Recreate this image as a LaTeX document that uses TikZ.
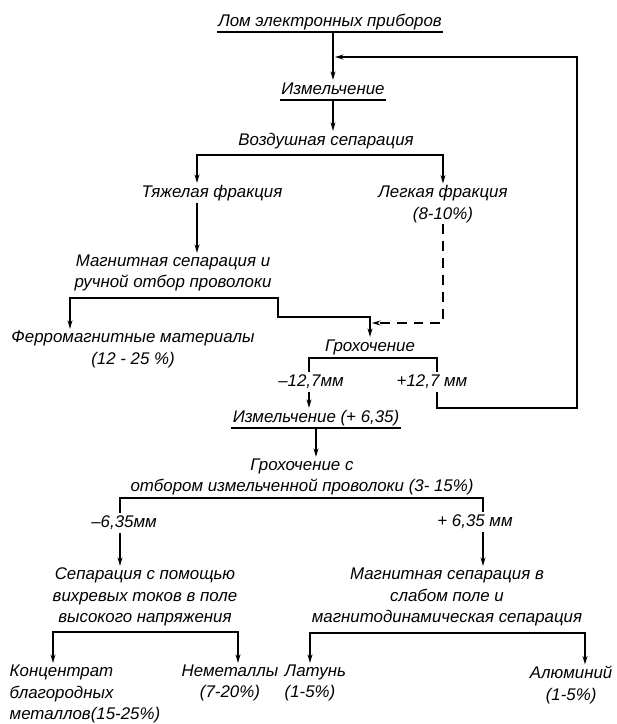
\documentclass[tikz,border=0pt]{standalone}
\usepackage{fontspec}
\setmainfont{Liberation Sans}
\usetikzlibrary{arrows.meta, calc}
\tikzset{
  flow/.style={line width=1.2pt, draw=black},
  arrow/.style={flow, -{Stealth[length=6pt,width=3.5pt]}},
  biarrow/.style={flow, {Stealth[length=6pt,width=3.5pt]}-{Stealth[length=6pt,width=3.5pt]}},
  dasharrow/.style={arrow, dash pattern=on 7pt off 5pt},
  txt/.style={font=\fontsize{12}{15.5}\selectfont\itshape,
    inner sep=1pt, text height=9pt, text depth=3pt},
  txtm/.style={font=\fontsize{12}{15.5}\selectfont\itshape,
    inner sep=1pt, align=center}
}

\begin{document}
\begin{tikzpicture}[x=0.025cm, y=-0.025cm]
\useasboundingbox (0,0) rectangle (617,724);

% Steps of the flow sheet
\node[txt] (lom) at (330,22) {Лом электронных приборов};
\node[txt] (izm1) at (333,90) {Измельчение};
\node[txt] (vozd) at (326,141) {Воздушная сепарация};
\node[txt] (tyazh) at (212,193) {Тяжелая фракция};
\node[txtm] (legk) at (443,204) {Легкая фракция\\(8-10\%)};
\node[txtm] (magn) at (173,273) {Магнитная сепарация и\\ручной отбор проволоки};
\node[txtm] (ferro) at (133,349) {Ферромагнитные материалы\\(12 - 25 \%)};
\node[txt] (groh) at (370,347) {Грохочение};
\node[txt] (m127) at (311,382) {–12,7мм};
\node[txt] (p127) at (432,382) {+12,7 мм};
\node[txt] (izm2) at (316,418) {Измельчение (+ 6,35)};
\node[txtm] (groh2) at (302,477) {Грохочение с\\отбором измельченной проволоки (3- 15\%)};
\node[txt] (m635) at (124,523) {–6,35мм};
\node[txt] (p635) at (475,522) {+ 6,35 мм};
\node[txtm] (sep) at (145,597) {Сепарация с помощью\\вихревых токов в поле\\высокого напряжения};
\node[txtm] (magn2) at (447,597) {Магнитная сепарация в\\слабом поле и\\магнитодинамическая сепарация};

% Products
\node[txtm, anchor=west, align=left] (konc) at (8,694) {Концентрат\\благородных\\металлов(15-25\%)};
\node[txtm] (nemet) at (230,683) {Неметаллы\\(7-20\%)};
\node[txtm, anchor=west, align=left] (latun) at (283,683) {Латунь\\(1-5\%)};
\node[txtm, anchor=east] (alum) at (614,685) {Алюминий\\(1-5\%)};

% Corners of the brackets
\coordinate (feed) at (335,57);
\coordinate (loop-t) at (577,57);
\coordinate (loop-b) at (577,408);
\coordinate (vozd-l) at (197,155);
\coordinate (vozd-r) at (443,155);
\coordinate (magn-l) at (70,298);
\coordinate (magn-r) at (278,298);
\coordinate (step) at (278,317);
\coordinate (merge) at (372,323);
\coordinate (groh-l) at (309,358);
\coordinate (groh-r) at (437,358);
\coordinate (g2-l) at (120,498);
\coordinate (g2-r) at (483,498);
\coordinate (sep-l) at (53,632);
\coordinate (sep-r) at (238,632);
\coordinate (mg2-l) at (310,633);
\coordinate (mg2-r) at (585,633);

% Connectors
\draw[flow] (lom.south west) -- (lom.south east);
\draw[arrow] (lom.south -| izm1.north) -- (izm1.north);
\draw[flow] (izm1.south west) -- (izm1.south east);
\draw[arrow] (izm1.south) -- (izm1.south |- vozd.north);
\draw[biarrow] (tyazh.north -| vozd-l) -- (vozd-l) -- (vozd-r) -- (legk.north -| vozd-r);
\draw[arrow] (tyazh.south -| vozd-l) -- (magn.north -| vozd-l);
\draw[biarrow] (ferro.north -| magn-l) -- (magn-l) -- (magn-r) -- (step)
  -- (step -| groh.north) -- (groh.north);
\draw[dasharrow] (legk.south) |- (merge);
\draw[flow] (m127.north -| groh-l) -- (groh-l) -- (groh-r) -- (p127.north -| groh-r);
\draw[arrow] (m127.south -| groh-l) -- (izm2.north -| groh-l);
\draw[arrow] (p127.south -| groh-r) |- (loop-b) -- (loop-t) -- (feed);
\draw[flow] (izm2.south west) -- (izm2.south east);
\draw[arrow] (izm2.south) -- (izm2.south |- groh2.north);
\draw[flow] (m635.north -| g2-l) -- (g2-l) -- (g2-r) -- (p635.north -| g2-r);
\draw[arrow] (m635.south -| g2-l) -- (sep.north -| g2-l);
\draw[arrow] (p635.south -| g2-r) -- (magn2.north -| g2-r);
\draw[biarrow] (konc.north -| sep-l) -- (sep-l) -- (sep-r) -- (nemet.north -| sep-r);
\draw[biarrow] (latun.north -| mg2-l) -- (mg2-l) -- (mg2-r) -- (alum.north -| mg2-r);

\end{tikzpicture}
\end{document}
